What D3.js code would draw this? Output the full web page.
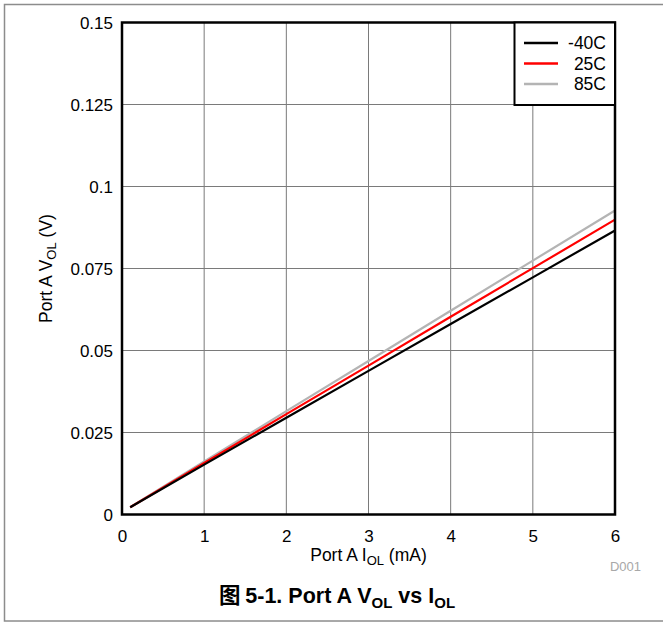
<!DOCTYPE html>
<html>
<head>
<meta charset="utf-8">
<script src="https://cdn.jsdelivr.net/npm/d3@7"></script>
<style>
  body { margin: 0; background: #fff; }
  text { font-family: "Liberation Sans", Arial, sans-serif; }
</style>
</head>
<body>
<div id="container"></div>
<script>
// values
const iol = [0.1, 1, 2, 3, 4, 5, 6];
const volM40 = [0.0022, 0.0152, 0.0295, 0.0438, 0.0581, 0.0723, 0.0866];
const vol25 = [0.0022, 0.0157, 0.0306, 0.0454, 0.0603, 0.0751, 0.0899];
const vol85 = [0.0022, 0.0162, 0.0315, 0.0468, 0.0621, 0.0774, 0.0927];
const seriesNames = ['-40C', '25C', '85C'];
const seriesColors = ['#000000', '#ff0000', '#b4b4b4'];
const xTicks = [0, 1, 2, 3, 4, 5, 6];
const yTicks = [0, 0.025, 0.05, 0.075, 0.1, 0.125, 0.15];
const yTickLabels = ['0', '0.025', '0.05', '0.075', '0.1', '0.125', '0.15'];

const W = 663, H = 623;
const plot = { left: 122, top: 22.5, right: 615, bottom: 514.5 };

const svg = d3.select('#container').append('svg')
  .attr('width', W).attr('height', H);

// outer frame
svg.append('rect')
  .attr('x', 4.5).attr('y', 4.5).attr('width', 670).attr('height', 616.5)
  .attr('fill', 'none').attr('stroke', '#8c8c8c').attr('stroke-width', 1.5);

const x = d3.scaleLinear().domain([0, 6]).range([plot.left, plot.right]);
const y = d3.scaleLinear().domain([0, 0.15]).range([plot.bottom, plot.top]);

// grid
const grid = svg.append('g');
grid.selectAll('line.v').data(xTicks.slice(1, -1)).join('line')
  .attr('x1', d => x(d)).attr('x2', d => x(d))
  .attr('y1', plot.top).attr('y2', plot.bottom)
  .attr('stroke', '#7a7a7a').attr('stroke-width', 1);
grid.selectAll('line.h').data(yTicks.slice(1, -1)).join('line')
  .attr('x1', plot.left).attr('x2', plot.right)
  .attr('y1', d => y(d)).attr('y2', d => y(d))
  .attr('stroke', '#7a7a7a').attr('stroke-width', 1);

// series
const series = [volM40, vol25, vol85];
const line = d3.line().x((d, i) => x(iol[i])).y(d => y(d));
series.slice().reverse().forEach((s, k) => {
  const idx = series.length - 1 - k;
  svg.append('path').datum(s)
    .attr('d', line)
    .attr('fill', 'none')
    .attr('stroke', seriesColors[idx])
    .attr('stroke-width', 2.2);
});

// plot border
svg.append('rect')
  .attr('x', plot.left).attr('y', plot.top)
  .attr('width', plot.right - plot.left).attr('height', plot.bottom - plot.top)
  .attr('fill', 'none').attr('stroke', '#000').attr('stroke-width', 2.5);

// axes
const xAxis = svg.append('g')
  .attr('transform', `translate(0,${plot.bottom})`)
  .call(d3.axisBottom(x).tickValues(xTicks).tickSize(0).tickPadding(15).tickFormat(d3.format('d')));
const yAxis = svg.append('g')
  .attr('transform', `translate(${plot.left},0)`)
  .call(d3.axisLeft(y).tickValues(yTicks).tickSize(0).tickPadding(9)
    .tickFormat((d, i) => yTickLabels[i]));
[xAxis, yAxis].forEach(a => {
  a.select('.domain').remove();
  a.selectAll('text').attr('font-size', 17).attr('fill', '#000')
    .attr('font-family', '"Liberation Sans", Arial, sans-serif');
});
yAxis.selectAll('text').attr('dy', '0.35em');

// axis titles
const xt = svg.append('text')
  .attr('x', (plot.left + plot.right) / 2).attr('y', 561)
  .attr('text-anchor', 'middle').attr('font-size', 17.5);
xt.append('tspan').text('Port A I');
xt.append('tspan').attr('font-size', 13).attr('dy', 4).text('OL');
xt.append('tspan').attr('dy', -4).text(' (mA)');

const yt = svg.append('text')
  .attr('transform', `translate(52,${(plot.top + plot.bottom) / 2}) rotate(-90)`)
  .attr('text-anchor', 'middle').attr('font-size', 17.5);
yt.append('tspan').text('Port A V');
yt.append('tspan').attr('font-size', 13).attr('dy', 4).text('OL');
yt.append('tspan').attr('dy', -4).text(' (V)');

// legend
const lg = svg.append('g');
lg.append('rect')
  .attr('x', 514.5).attr('y', plot.top).attr('width', plot.right - 514.5).attr('height', 105 - plot.top)
  .attr('fill', '#fff').attr('stroke', '#000').attr('stroke-width', 2);
seriesNames.forEach((n, i) => {
  const ly = 43 + i * 20.5;
  lg.append('line').attr('x1', 524).attr('x2', 558).attr('y1', ly).attr('y2', ly)
    .attr('stroke', seriesColors[i]).attr('stroke-width', 2.5);
  lg.append('text').attr('x', 606).attr('y', ly).attr('dy', '0.35em')
    .attr('text-anchor', 'end').attr('font-size', 17.5).text(n);
});

// code tag
svg.append('text').attr('x', 641).attr('y', 571).attr('text-anchor', 'end')
  .attr('font-size', 13).attr('fill', '#a8a8a8').text('D001');

// caption
const cap = svg.append('text')
  .attr('x', 337).attr('y', 603).attr('text-anchor', 'middle')
  .attr('font-size', 21.5).attr('font-weight', 'bold');
cap.append('tspan').attr('font-family', '"Noto Sans CJK SC", sans-serif').text('图 ');
cap.append('tspan').text('5-1. Port A V');
cap.append('tspan').attr('font-size', 15).attr('dy', 5).text('OL');
cap.append('tspan').attr('dy', -5).text(' vs I');
cap.append('tspan').attr('font-size', 15).attr('dy', 5).text('OL');
</script>
</body>
</html>
